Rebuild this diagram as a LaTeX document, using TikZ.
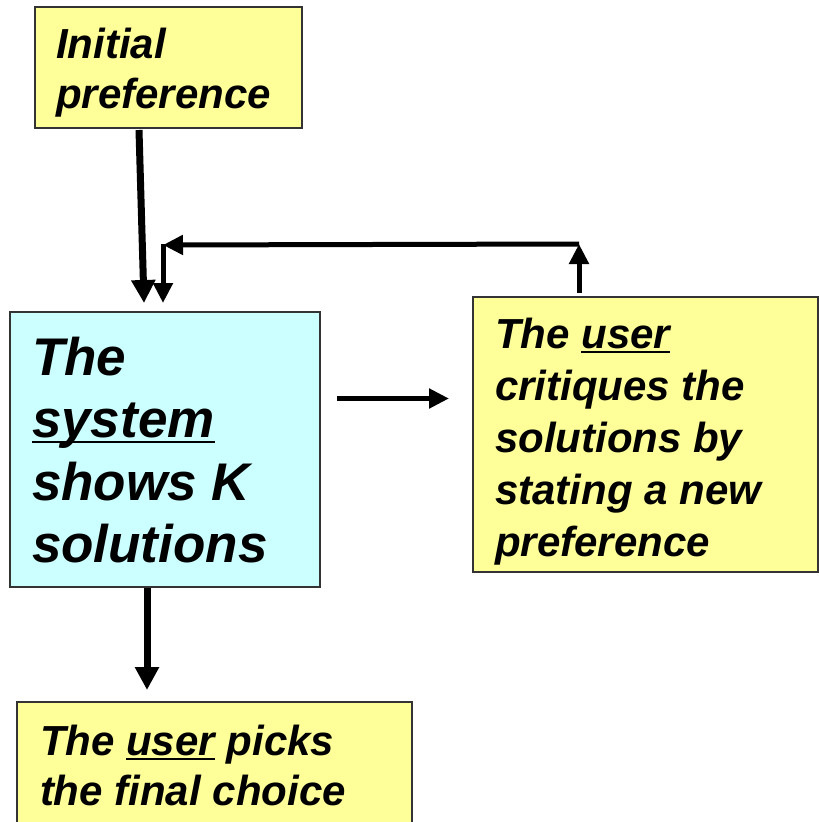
\documentclass[tikz,border=0pt]{standalone}
\usepackage{fontspec}
\setmainfont{Liberation Sans}
\usetikzlibrary{arrows.meta,calc}
\definecolor{noteyellow}{HTML}{FFFF99}
\definecolor{sysblue}{HTML}{CCFFFF}
\definecolor{edgegray}{HTML}{333333}
% underline at a fixed depth below the baseline
\newcommand\undl[1]{\leavevmode\setbox0\hbox{#1}\rlap{\rule[-0.1em]{\wd0}{0.05em}}\box0\relax}
\tikzset{
  card/.style={draw=edgegray, line width=1.5pt, anchor=north west, outer sep=0pt, inner sep=0pt},
  words/.style={anchor=north west, align=left, inner sep=0pt, outer sep=0pt},
  mid/.style={font=\fontsize{42}{50}\selectfont\bfseries\itshape},
  midloose/.style={font=\fontsize{42}{52}\selectfont\bfseries\itshape},
  large/.style={font=\fontsize{53}{62.5}\selectfont\bfseries\itshape},
  heavyarrow/.style={line width=7pt, -{Triangle[length=23pt,width=23pt]}},
  lightarrow/.style={line width=5pt, -{Triangle[length=20pt,width=19pt]}},
}
\begin{document}
\begin{tikzpicture}[x=1pt,y=-1pt]
  \fill[white] (0,0) rectangle (819,822);
  \useasboundingbox (0,0) rectangle (819,822);

  % boxes
  \node[card, fill=noteyellow, minimum width=267pt, minimum height=121pt] (init) at (35,7) {};
  \node[card, fill=sysblue, minimum width=310pt, minimum height=275pt] (sys) at (10,312) {};
  \node[card, fill=noteyellow, minimum width=345pt, minimum height=275pt] (crit) at (473,297) {};
  \node[card, fill=noteyellow, minimum width=395pt, minimum height=140pt] (pick) at (17,702) {};

  % box texts
  \node[words, mid] (initText) at ($(init.north west)+(21,21)$) {Initial\\preference};
  \node[words, large] (sysText) at ($(sys.north west)+(22,25)$)
        {The\\\undl{system}\\shows K\\solutions};
  \node[words, midloose] (critText) at ($(crit.north west)+(22,21)$)
        {The \undl{user}\\critiques the\\solutions by\\stating a new\\preference};
  \node[words, mid] (pickText) at ($(pick.north west)+(23,23)$)
        {The \undl{user} picks\\the final choice};

  % initial preference feeds the system
  \draw[heavyarrow] ($(init.south west)+(104,2)$) -- ($(sys.north west)+(134,-9)$);
  % system hands its solutions to the user
  \draw[lightarrow] ($(sys.east)+(17,-51)$) -- ($(crit.west)+(-24,-36)$);
  % feedback loop from the critique back to the system
  \coordinate (corner) at ($(crit.north west)+(106,-53)$);
  \coordinate (turn) at ($(sys.north west)+(153,-67)$);
  \draw[lightarrow] ($(crit.north west)+(106,-4)$) -- (corner);
  \draw[lightarrow] (corner) -- (turn);
  \draw[lightarrow] ($(turn)+(0,-1)$) -- ($(sys.north west)+(153,-9)$);
  % final choice
  \draw[heavyarrow] ($(sys.south west)+(137,1)$) -- ($(pick.north west)+(130,-12)$);
\end{tikzpicture}
\end{document}
